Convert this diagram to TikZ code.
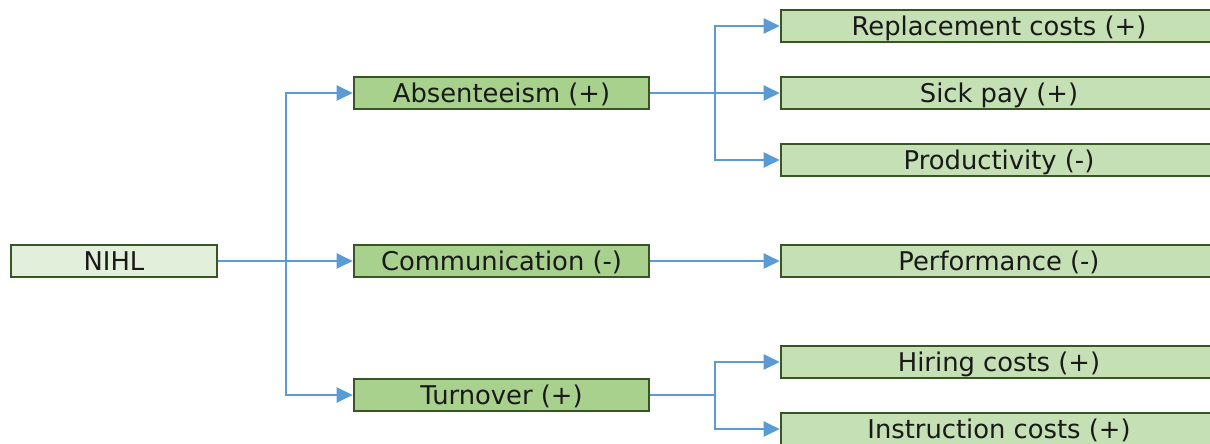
\documentclass[tikz,border=0pt]{standalone}
\usepackage{fontspec}
\setmainfont{DejaVu Sans}
\usetikzlibrary{arrows.meta}
\definecolor{boxline}{HTML}{375623}
\definecolor{fillroot}{HTML}{E2EFDA}
\definecolor{fillmid}{HTML}{A9D18E}
\definecolor{fillleaf}{HTML}{C5E0B4}
\definecolor{arrowblue}{HTML}{5B9BD5}
\tikzset{
  basebox/.style={draw=boxline, line width=2.6pt, inner sep=0pt, minimum height=32pt,
    font=\fontsize{25.8}{30}\selectfont, text=black!90, text height=18.8pt, text depth=0pt},
  rootbox/.style={basebox, fill=fillroot, minimum width=206pt},
  midbox/.style={basebox, fill=fillmid, minimum width=295pt},
  leafbox/.style={basebox, fill=fillleaf, minimum width=436pt},
  arr/.style={draw=arrowblue, line width=2.2pt, -{Triangle[length=16pt,width=15pt]}},
  lin/.style={draw=arrowblue, line width=2.2pt}
}
\begin{document}
\begin{tikzpicture}[x=1pt,y=-1pt]
\useasboundingbox (0,0) rectangle (1210,444);
\node[rootbox] (nihl) at (114,261) {NIHL};
\node[midbox] (abs) at (501.5,93) {Absenteeism (+)};
\node[midbox] (comm) at (501.5,261) {Communication (-)};
\node[midbox] (turn) at (501.5,395) {Turnover (+)};
\node[leafbox] (repl) at (999,26) {Replacement costs (+)};
\node[leafbox] (sick) at (999,93) {Sick pay (+)};
\node[leafbox] (prod) at (999,160) {Productivity (-)};
\node[leafbox] (perf) at (999,261) {Performance (-)};
\node[leafbox] (hire) at (999,362) {Hiring costs (+)};
\node[leafbox] (instr) at (999,429) {Instruction costs (+)};
\coordinate (j1) at (286,261);
\coordinate (j2) at (715,93);
\coordinate (j3) at (715,395);
\draw[arr] (nihl.east) -- (comm.west);
\draw[arr] (j1) |- (abs.west);
\draw[arr] (j1) |- (turn.west);
\draw[arr] (abs.east) -- (sick.west);
\draw[arr] (j2) |- (repl.west);
\draw[arr] (j2) |- (prod.west);
\draw[arr] (comm.east) -- (perf.west);
\draw[lin] (turn.east) -- (j3);
\draw[arr] (j3) |- (hire.west);
\draw[arr] (j3) |- (instr.west);
\end{tikzpicture}
\end{document}
